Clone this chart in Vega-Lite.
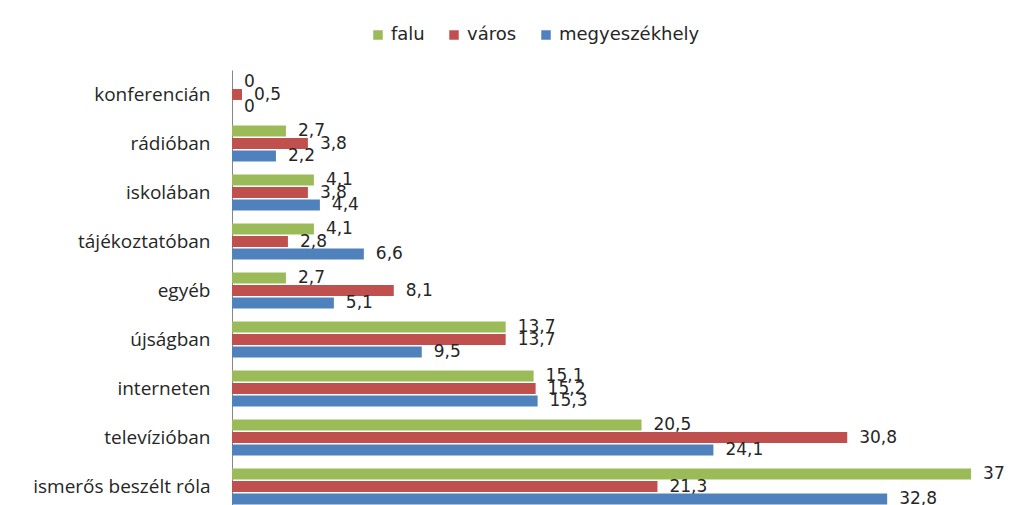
{
  "$schema": "https://vega.github.io/schema/vega-lite/v6.json",
  "width": 799,
  "height": 441,
  "autosize": "none",
  "padding": {"left": 232, "top": 70, "right": 0, "bottom": 0},
  "background": "white",
  "config": {"view": {"stroke": null}},
  "data": {
    "values": [
      {"cat": "konferencián", "group": "falu", "value": 0, "label": "0"},
      {"cat": "konferencián", "group": "város", "value": 0.5, "label": "0,5"},
      {"cat": "konferencián", "group": "megyeszékhely", "value": 0, "label": "0"},
      {"cat": "rádióban", "group": "falu", "value": 2.7, "label": "2,7"},
      {"cat": "rádióban", "group": "város", "value": 3.8, "label": "3,8"},
      {"cat": "rádióban", "group": "megyeszékhely", "value": 2.2, "label": "2,2"},
      {"cat": "iskolában", "group": "falu", "value": 4.1, "label": "4,1"},
      {"cat": "iskolában", "group": "város", "value": 3.8, "label": "3,8"},
      {"cat": "iskolában", "group": "megyeszékhely", "value": 4.4, "label": "4,4"},
      {"cat": "tájékoztatóban", "group": "falu", "value": 4.1, "label": "4,1"},
      {"cat": "tájékoztatóban", "group": "város", "value": 2.8, "label": "2,8"},
      {"cat": "tájékoztatóban", "group": "megyeszékhely", "value": 6.6, "label": "6,6"},
      {"cat": "egyéb", "group": "falu", "value": 2.7, "label": "2,7"},
      {"cat": "egyéb", "group": "város", "value": 8.1, "label": "8,1"},
      {"cat": "egyéb", "group": "megyeszékhely", "value": 5.1, "label": "5,1"},
      {"cat": "újságban", "group": "falu", "value": 13.7, "label": "13,7"},
      {"cat": "újságban", "group": "város", "value": 13.7, "label": "13,7"},
      {"cat": "újságban", "group": "megyeszékhely", "value": 9.5, "label": "9,5"},
      {"cat": "interneten", "group": "falu", "value": 15.1, "label": "15,1"},
      {"cat": "interneten", "group": "város", "value": 15.2, "label": "15,2"},
      {"cat": "interneten", "group": "megyeszékhely", "value": 15.3, "label": "15,3"},
      {"cat": "televízióban", "group": "falu", "value": 20.5, "label": "20,5"},
      {"cat": "televízióban", "group": "város", "value": 30.8, "label": "30,8"},
      {"cat": "televízióban", "group": "megyeszékhely", "value": 24.1, "label": "24,1"},
      {"cat": "ismerős beszélt róla", "group": "falu", "value": 37, "label": "37"},
      {"cat": "ismerős beszélt róla", "group": "város", "value": 21.3, "label": "21,3"},
      {"cat": "ismerős beszélt róla", "group": "megyeszékhely", "value": 32.8, "label": "32,8"}
    ]
  },
  "encoding": {
    "y": {
      "field": "cat",
      "type": "nominal",
      "sort": null,
      "scale": {"paddingInner": 0.27, "paddingOuter": 0.135},
      "axis": {
        "title": null,
        "ticks": false,
        "domainColor": "#868686",
        "labelFont": "Open Sans",
        "labelFontSize": 19,
        "labelColor": "#262626",
        "labelPadding": 22
      }
    },
    "yOffset": {
      "field": "group",
      "type": "nominal",
      "sort": ["falu", "város", "megyeszékhely"],
      "scale": {"paddingInner": 0.12, "paddingOuter": 0}
    },
    "x": {
      "field": "value",
      "type": "quantitative",
      "scale": {"domain": [0, 40], "nice": false},
      "axis": null
    }
  },
  "layer": [
    {
      "mark": {"type": "bar"},
      "encoding": {
        "color": {
          "field": "group",
          "type": "nominal",
          "scale": {
            "domain": ["falu", "város", "megyeszékhely"],
            "range": ["#9BBB59", "#C0504D", "#4F81BD"]
          },
          "legend": {
            "title": null,
            "orient": "none",
            "direction": "horizontal",
            "legendX": 137,
            "legendY": -44,
            "symbolType": "square",
            "symbolSize": 90,
            "symbolStrokeWidth": 0,
            "labelFont": "DejaVu Sans",
            "labelFontSize": 18,
            "labelColor": "#262626",
            "labelOffset": 4,
            "columnPadding": 20
          }
        }
      }
    },
    {
      "mark": {
        "type": "text",
        "align": "left",
        "baseline": "middle",
        "dx": 12,
        "font": "DejaVu Sans",
        "fontSize": 17,
        "color": "#262626"
      },
      "encoding": {"text": {"field": "label"}}
    }
  ]
}
